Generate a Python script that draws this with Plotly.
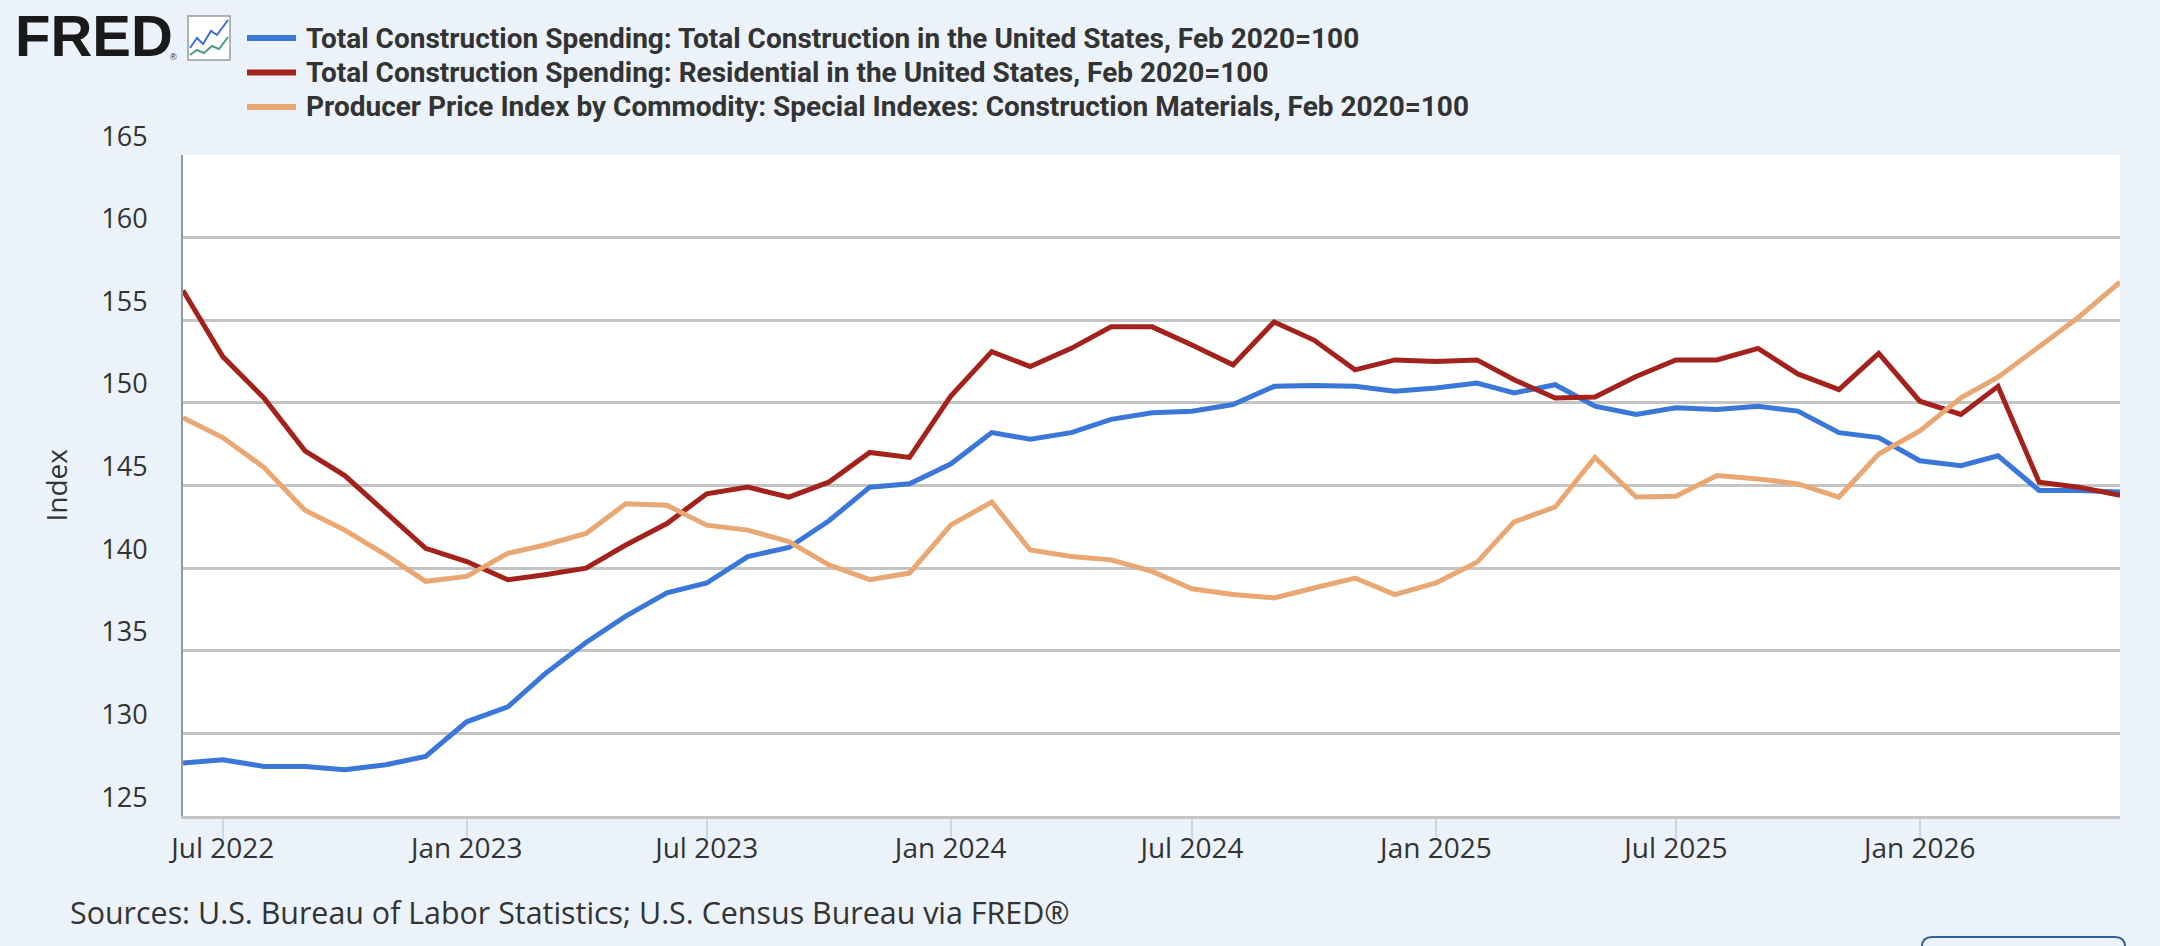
import pandas as pd
import plotly.graph_objects as go

# monthly observations, Jun 2022 .. Jun 2026
dates = pd.date_range("2022-06-01", "2026-06-01", freq="MS")

total_construction = [
    128.2, 128.4, 128.0, 128.0, 127.8, 128.1, 128.6, 130.7, 131.6, 133.6, 135.5, 137.1, 138.5,
    139.1, 140.7, 141.25, 142.85, 144.9, 145.1, 146.3, 148.2, 147.8, 148.2, 149.0, 149.4,
    149.5, 149.9, 151.0, 151.05, 151.0, 150.7, 150.9, 151.2, 150.6, 151.1, 149.8, 149.3,
    149.7, 149.6, 149.8, 149.5, 148.2, 147.9, 146.5, 146.2, 146.8, 144.7, 144.7, 144.6,
]
residential = [
    156.8, 152.8, 150.3, 147.1, 145.6, 143.4, 141.2, 140.4, 139.3, 139.6, 140.0, 141.4, 142.7,
    144.5, 144.9, 144.3, 145.2, 147.0, 146.7, 150.4, 153.1, 152.2, 153.3, 154.6, 154.6,
    153.5, 152.3, 154.9, 153.8, 152.0, 152.6, 152.5, 152.6, 151.4, 150.3, 150.35, 151.6,
    152.6, 152.6, 153.3, 151.75, 150.8, 153.0, 150.1, 149.3, 151.0, 145.2, 144.9, 144.4,
]
ppi_materials = [
    149.1, 147.9, 146.1, 143.5, 142.3, 140.8, 139.2, 139.5, 140.9, 141.4, 142.1, 143.9, 143.8,
    142.6, 142.3, 141.6, 140.2, 139.3, 139.7, 142.6, 144.0, 141.1, 140.7, 140.5, 139.8,
    138.75, 138.4, 138.2, 138.8, 139.4, 138.4, 139.1, 140.35, 142.8, 143.7, 146.7, 144.3,
    144.35, 145.6, 145.4, 145.1, 144.3, 146.9, 148.3, 150.3, 151.55, 153.4, 155.2, 157.3,
]

series_names = [
    "Total Construction Spending: Total Construction in the United States, Feb 2020=100",
    "Total Construction Spending: Residential in the United States, Feb 2020=100",
    "Producer Price Index by Commodity: Special Indexes: Construction Materials, Feb 2020=100",
]
series_colors = ["#3a77d9", "#a3231c", "#e9a873"]

tick_dates = ["2022-07-01", "2023-01-01", "2023-07-01", "2024-01-01",
              "2024-07-01", "2025-01-01", "2025-07-01", "2026-01-01"]
tick_labels = ["Jul 2022", "Jan 2023", "Jul 2023", "Jan 2024",
               "Jul 2024", "Jan 2025", "Jul 2025", "Jan 2026"]

W, H = 2160, 946
L, R, T, B = 183, 40, 155, 130
PW, PH = W - L - R, H - T - B
BG = "#ebf2fa"
TXT = "#333333"


def px(x):
    # pixel x -> paper
    return (x - L) / PW


def py(y):
    # pixel y -> paper
    return (H - B - y) / PH


fig = go.Figure()
for vals, name, col in zip([total_construction, residential, ppi_materials], series_names, series_colors):
    fig.add_trace(go.Scatter(x=dates, y=vals, mode="lines", name=name,
                             line=dict(color=col, width=5), showlegend=False))

annotations = []
shapes = []

# legend rows
for i, (name, col) in enumerate(zip(series_names, series_colors)):
    yc = 38 + i * 34.5
    shapes.append(dict(type="line", xref="paper", yref="paper",
                       x0=px(247), x1=px(296), y0=py(yc), y1=py(yc),
                       line=dict(color=col, width=6)))
    annotations.append(dict(text=f"<b>{name}</b>", xref="paper", yref="paper",
                            x=px(304), y=py(yc), xanchor="left", yanchor="middle",
                            showarrow=False, font=dict(family="Roboto", size=28, color=TXT)))

# FRED logo
annotations.append(dict(text="<b>FRED</b>", xref="paper", yref="paper", x=px(13), y=py(35),
                        xanchor="left", yanchor="middle", showarrow=False,
                        font=dict(family="Liberation Sans", size=58, color="#1a1a1a")))
annotations.append(dict(text="®", xref="paper", yref="paper", x=px(173), y=py(57),
                        xanchor="center", yanchor="middle", showarrow=False,
                        font=dict(family="Liberation Sans", size=9, color="#1a1a1a")))


def path(points):
    return "M" + " L".join(f"{px(a)},{py(b)}" for a, b in points)


shapes.append(dict(type="rect", xref="paper", yref="paper", x0=px(188), x1=px(230),
                   y0=py(60), y1=py(16), fillcolor="white", line=dict(color="#9a9a9a", width=1.5)))
shapes.append(dict(type="path", xref="paper", yref="paper",
                   path=path([(190, 48), (197, 38), (203, 44), (211, 31), (217, 35), (228, 20)]),
                   line=dict(color="#3a6fd0", width=2)))
shapes.append(dict(type="path", xref="paper", yref="paper",
                   path=path([(190, 55), (197, 50), (204, 53), (212, 46), (219, 49), (228, 37)]),
                   line=dict(color="#4f9c86", width=2)))

# y axis title
annotations.append(dict(text="Index", xref="paper", yref="paper", x=px(55), y=0.5,
                        xanchor="center", yanchor="middle", textangle=-90, showarrow=False,
                        font=dict(family="Open Sans", size=28, color=TXT)))

# source line
annotations.append(dict(text="Sources: U.S. Bureau of Labor Statistics; U.S. Census Bureau via FRED®",
                        xref="paper", yref="paper", x=px(68), y=py(912),
                        xanchor="left", yanchor="middle", showarrow=False,
                        font=dict(family="Open Sans", size=30.4, color=TXT)))

# cut-off button outline at the bottom right
x0, x1, y0, y1, r = 1922, 2125, 937, 960, 10
shapes.append(dict(type="path", xref="paper", yref="paper",
                   path=(f"M{px(x0)},{py(y1)} L{px(x0)},{py(y0 + r)} Q{px(x0)},{py(y0)} {px(x0 + r)},{py(y0)} "
                         f"L{px(x1 - r)},{py(y0)} Q{px(x1)},{py(y0)} {px(x1)},{py(y0 + r)} L{px(x1)},{py(y1)}"),
                   line=dict(color="#2f5f9e", width=2)))

fig.update_layout(
    width=W, height=H,
    margin=dict(l=L, r=R, t=T, b=B),
    paper_bgcolor=BG, plot_bgcolor="white",
    annotations=annotations, shapes=shapes,
    xaxis=dict(
        range=[dates[0], dates[-1]],
        tickvals=tick_dates, ticktext=tick_labels,
        showgrid=False, zeroline=False,
        showline=True, linecolor="#c4c4c4", linewidth=3,
        ticks="outside", ticklen=20, tickwidth=1.5, tickcolor="#ccd6eb",
        ticklabelstandoff=-15,
        tickfont=dict(family="Open Sans", size=28, color=TXT),
    ),
    yaxis=dict(
        range=[125, 165], dtick=5, tick0=125,
        showgrid=True, gridcolor="#c4c4c4", gridwidth=2.5, zeroline=False,
        showline=True, linecolor="#999999", linewidth=2,
        ticklabelposition="outside top", ticklabelstandoff=28,
        tickfont=dict(family="Open Sans", size=27, color=TXT),
    ),
)

# page has a default 8px body margin; drop it so the figure fills the window
fig.write_html("out.html", config={"displayModeBar": False},
               post_script="document.body.style.margin='0';document.body.style.overflow='hidden';")
